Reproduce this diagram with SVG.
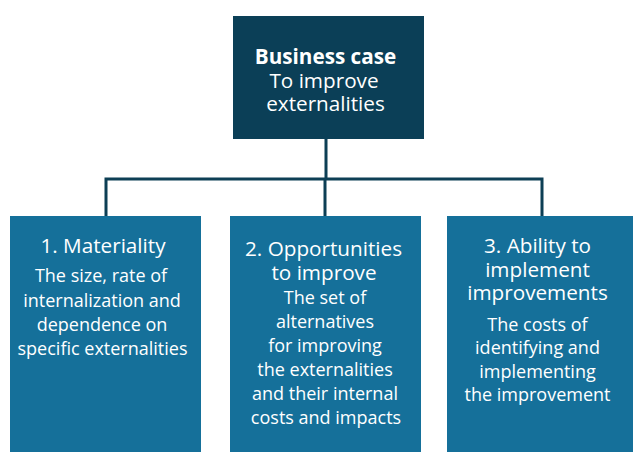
<svg xmlns="http://www.w3.org/2000/svg" width="633" height="452" viewBox="0 0 633 452">
<style>
.top{fill:#0b3f57}
.box{fill:#15709a}
.conn{stroke:#0d3f55;stroke-width:3;fill:none}
text{font-family:"Open Sans","Noto Sans","Liberation Sans",sans-serif;fill:#ffffff;text-anchor:middle}
.h{font-size:20.7px}
.b{font-size:18px}
.bold{font-weight:bold}
</style>
<rect width="633" height="452" fill="#ffffff"/>
<g id="connectors">
<path class="conn" d="M326 139 V179 M106 216 V179 H542 V216 M325 179 V216"/>
</g>
<g id="business-case">
<rect class="top" x="233" y="16" width="191" height="123"/>
<text x="325.5" y="64" class="h bold">Business case</text>
<text x="324" y="88" class="h">To improve</text>
<text x="325.5" y="111" class="h">externalities</text>
</g>
<g id="materiality">
<rect class="box" x="10" y="216" width="191" height="236"/>
<text x="103" y="253" class="h">1. Materiality</text>
<text x="101" y="282" class="b">The size, rate of</text>
<text x="102" y="307" class="b">internalization and</text>
<text x="102" y="331" class="b">dependence on</text>
<text x="102.5" y="355" class="b">specific externalities</text>
</g>
<g id="opportunities">
<rect class="box" x="230" y="216" width="191" height="236"/>
<text x="323.5" y="256" class="h">2. Opportunities</text>
<text x="324" y="280" class="h">to improve</text>
<text x="325" y="304" class="b">The set of</text>
<text x="325" y="328" class="b">alternatives</text>
<text x="325" y="352" class="b">for improving</text>
<text x="325" y="376" class="b">the externalities</text>
<text x="325" y="400" class="b">and their internal</text>
<text x="326" y="424" class="b">costs and impacts</text>
</g>
<g id="ability">
<rect class="box" x="447" y="216" width="190" height="236"/>
<text x="537.5" y="253" class="h">3. Ability to</text>
<text x="537.5" y="277" class="h">implement</text>
<text x="537.5" y="300" class="h">improvements</text>
<text x="537.5" y="331" class="b">The costs of</text>
<text x="537.5" y="354" class="b">identifying and</text>
<text x="537.5" y="378" class="b">implementing</text>
<text x="537.5" y="401" class="b">the improvement</text>
</g>
</svg>
